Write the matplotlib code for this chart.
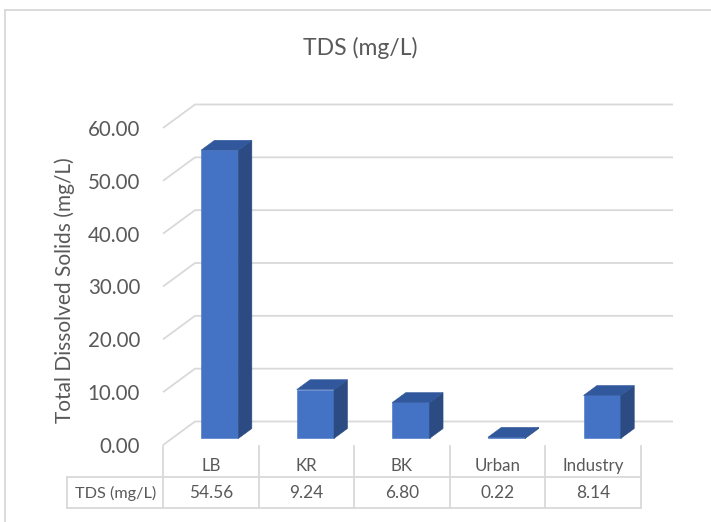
import matplotlib
matplotlib.use('Agg')
import matplotlib.pyplot as plt
from matplotlib.lines import Line2D

plt.rcParams['font.family'] = ['Lato', 'DejaVu Sans']

# data
sites = ['LB', 'KR', 'BK', 'Urban', 'Industry']
tds = [54.56, 9.24, 6.80, 0.22, 8.14]
yticks = [0, 10, 20, 30, 40, 50, 60]
series_name = 'TDS (mg/L)'

TXT = '#595959'
GRID = '#d9d9d9'
FRONT = '#4472c4'
SIDE = '#2c4b82'
TOP = '#31589c'

W_PX, H_PX = 711, 522
fig = plt.figure(figsize=(W_PX / 100, H_PX / 100), dpi=100)


def box(l, t, r, b):
    # pixel box -> figure fraction rect
    return [l / W_PX, 1 - b / H_PX, (r - l) / W_PX, (b - t) / H_PX]


# front plane of the floor / walls
ax = fig.add_axes(box(163, 128, 641, 445))
ax.set_xlim(-0.5, len(sites) - 0.5)
ax.set_ylim(0, 60)
for s in ax.spines.values():
    s.set_visible(False)
ax.set_xticks([])
ax.set_yticks(yticks)
ax.set_yticklabels(['%.2f' % v for v in yticks])
ax.tick_params(axis='y', length=0, pad=16.5, labelsize=14.8, labelcolor=TXT)

# depth of the 3d box in data units
DX = 32 / 95.6
DY = 23.5 / 5.283
F0, F1 = 0.28, 0.70
BW = 0.39


def p(x, v, f):
    return (x + f * DX, v + f * DY)


x_left, x_right = -0.5, len(sites) - 0.5
for v in yticks:
    a = p(x_left, v, 0)
    b = p(x_left, v, 1)
    c = p(x_right, v, 1)
    ax.plot([a[0], b[0], c[0]], [a[1], b[1], c[1]], color=GRID, lw=1.3,
            clip_on=False, zorder=1, solid_capstyle='butt')

for i, v in enumerate(tds):
    x0, x1 = i - BW / 2, i + BW / 2
    front = [p(x0, 0, F0), p(x1, 0, F0), p(x1, v, F0), p(x0, v, F0)]
    side = [p(x1, 0, F0), p(x1, 0, F1), p(x1, v, F1), p(x1, v, F0)]
    top = [p(x0, v, F0), p(x1, v, F0), p(x1, v, F1), p(x0, v, F1)]
    for poly, col in ((front, FRONT), (side, SIDE), (top, TOP)):
        xs, ys = zip(*poly)
        ax.fill(xs, ys, color=col, lw=0.4, ec=col, clip_on=False, zorder=3)

# data table under the plot
tab = fig.add_axes(box(163 - 95.6, 446, 641, 508))
tab.set_xlim(-1.5, len(sites) - 0.5)
tab.set_ylim(2, 0)
tab.axis('off')
lk = dict(color=GRID, lw=1.3, clip_on=False)
for k in range(len(sites) + 1):
    tab.plot([k - 0.5, k - 0.5], [0, 2], **lk)
tab.plot([-1.5, -1.5], [1, 2], **lk)
for yy in (1, 2):
    tab.plot([-1.5, len(sites) - 0.5], [yy, yy], **lk)
for i, (name, v) in enumerate(zip(sites, tds)):
    tab.text(i, 0.63, name, ha='center', va='center', fontsize=12.2, color=TXT)
    tab.text(i, 1.52, '%.2f' % v, ha='center', va='center', fontsize=12.4, color=TXT)
tab.text(-1, 1.52, series_name, ha='center', va='center', fontsize=11.7, color=TXT)

fig.text(360 / W_PX, 1 - 48 / H_PX, 'TDS (mg/L)', ha='center', va='center',
         fontsize=16.5, color=TXT)
fig.text(65 / W_PX, 1 - 290 / H_PX, 'Total Dissolved Solids (mg/L)', ha='center',
         va='center', rotation=90, fontsize=15, color=TXT)

# chart area border
fig.add_artist(Line2D([5 / W_PX, 5 / W_PX], [0, 1 - 10 / H_PX], color=GRID, lw=1.3))
fig.add_artist(Line2D([5 / W_PX, 1], [1 - 10 / H_PX, 1 - 10 / H_PX], color=GRID, lw=1.3))

fig.savefig('out.png', dpi=100, facecolor='white')
